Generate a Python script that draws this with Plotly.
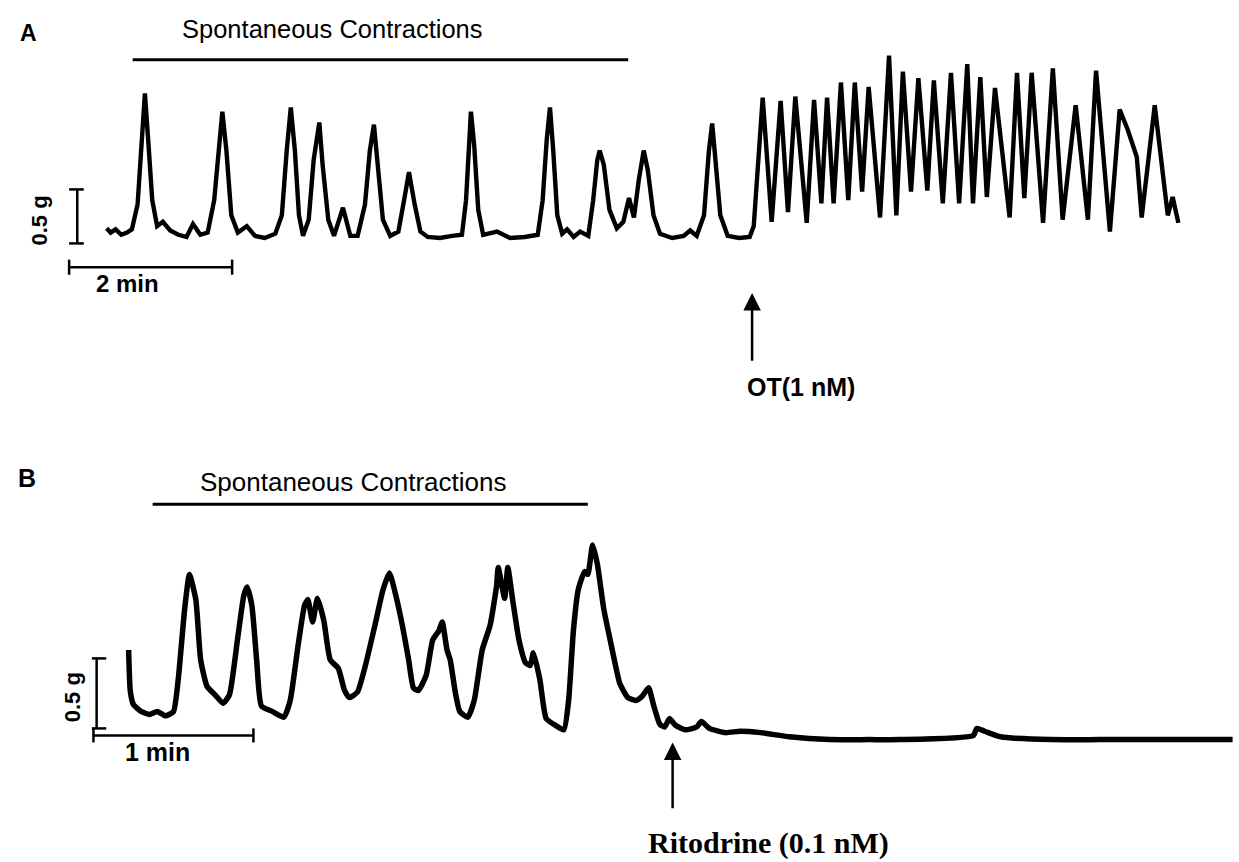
import plotly.graph_objects as go

# ---------------- Panel A : time (min), force (g) ----------------
a_time = [0.02, 0.07, 0.13, 0.20, 0.27, 0.33, 0.40, 0.45, 0.49, 0.53, 0.58, 0.64, 0.71, 0.80, 0.90,
          1.00, 1.08, 1.17, 1.26, 1.34, 1.40, 1.44, 1.49, 1.55, 1.63, 1.74, 1.84, 1.96, 2.09, 2.17,
          2.23, 2.28, 2.33, 2.38, 2.43, 2.50, 2.56, 2.63, 2.67, 2.74, 2.81, 2.92, 3.01, 3.10, 3.19,
          3.25, 3.30, 3.35, 3.41, 3.50, 3.60, 3.67, 3.73, 3.80, 3.87, 3.96, 4.11, 4.26, 4.38, 4.43,
          4.47, 4.49, 4.53, 4.58, 4.64, 4.81, 4.97, 5.15, 5.31, 5.37, 5.42, 5.46, 5.50, 5.55, 5.61,
          5.67, 5.75, 5.83, 5.93, 5.99, 6.04, 6.07, 6.12, 6.19, 6.28, 6.36, 6.43, 6.49, 6.55, 6.61,
          6.66, 6.73, 6.81, 6.96, 7.10, 7.18, 7.26, 7.35, 7.41, 7.45, 7.48, 7.55, 7.64, 7.78, 7.91,
          7.96, 8.07, 8.18, 8.29, 8.38, 8.47, 8.61, 8.70, 8.79, 8.86, 8.94, 9.03, 9.12, 9.20, 9.29,
          9.37, 9.51, 9.62, 9.71, 9.79, 9.89, 9.98, 10.09, 10.17, 10.28, 10.38, 10.48, 10.58, 10.65,
          10.74, 10.82, 10.92, 11.02, 11.10, 11.19, 11.28, 11.37, 11.51, 11.63, 11.75, 11.91, 12.06,
          12.16, 12.33, 12.45, 12.55, 12.66, 12.72, 12.88, 13.04, 13.10, 13.17]
a_force = [0.09, 0.05, 0.08, 0.03, 0.05, 0.08, 0.31, 0.81, 1.34, 0.91, 0.35, 0.11, 0.15, 0.07, 0.03,
           0.01, 0.13, 0.03, 0.05, 0.35, 0.91, 1.17, 0.81, 0.21, 0.05, 0.11, 0.02, 0.00, 0.04, 0.21,
           0.81, 1.21, 0.81, 0.21, 0.02, 0.17, 0.72, 1.07, 0.68, 0.17, 0.02, 0.28, 0.02, 0.02, 0.31,
           0.81, 1.05, 0.68, 0.17, 0.02, 0.06, 0.35, 0.61, 0.31, 0.06, 0.01, 0.00, 0.02, 0.03, 0.35,
           0.91, 1.17, 0.86, 0.26, 0.03, 0.06, 0.00, 0.01, 0.03, 0.35, 0.91, 1.21, 0.81, 0.21, 0.04,
           0.08, 0.01, 0.06, 0.02, 0.35, 0.72, 0.81, 0.68, 0.26, 0.09, 0.15, 0.37, 0.19, 0.54, 0.81,
           0.63, 0.21, 0.04, 0.00, 0.02, 0.07, 0.02, 0.21, 0.81, 1.06, 0.81, 0.21, 0.02, 0.00, 0.01,
           0.11, 1.30, 0.15, 1.27, 0.24, 1.31, 0.14, 1.28, 0.32, 1.30, 0.32, 1.44, 0.35, 1.44, 0.43,
           1.40, 0.19, 1.69, 0.21, 1.54, 0.43, 1.48, 0.44, 1.46, 0.32, 1.53, 0.32, 1.61, 0.32,
           1.49, 0.38, 1.39, 0.72, 0.19, 1.53, 0.37, 1.53, 0.14, 1.57, 0.17, 1.23, 0.17,
           1.55, 0.06, 1.19, 1.00, 0.75, 0.19, 1.23, 0.21, 0.38, 0.14]

# ---------------- Panel B : time (min), force (g) ----------------
b_time = [0.01, 0.02, 0.04, 0.09, 0.14, 0.19, 0.24, 0.29, 0.32, 0.36, 0.39, 0.43, 0.46, 0.50, 0.55,
          0.60, 0.64, 0.69, 0.73, 0.75, 0.78, 0.81, 0.84, 0.91, 0.98, 1.02, 1.07, 1.11, 1.13, 1.16,
          1.19, 1.23, 1.27, 1.32, 1.36, 1.39, 1.44, 1.49, 1.55, 1.60, 1.64, 1.68, 1.72, 1.76, 1.79,
          1.82, 1.87, 1.91, 1.95, 1.97, 2.00, 2.02, 2.05, 2.08, 2.13, 2.17, 2.22, 2.27, 2.31, 2.32,
          2.36, 2.38, 2.41, 2.45, 2.49, 2.52, 2.54, 2.58, 2.62, 2.68, 2.73, 2.76, 2.79, 2.82, 2.86,
          2.88, 2.91, 2.94, 2.98, 3.02, 3.04, 3.08, 3.13, 3.18, 3.22, 3.26, 3.29, 3.33, 3.36, 3.39,
          3.43, 3.49, 3.56, 3.59, 3.64, 3.74, 3.83, 3.96, 4.14, 4.39, 4.64, 4.83, 5.29, 5.31, 5.36,
          5.46, 5.77, 6.08, 6.39, 6.71, 6.91]
b_force = [0.45, 0.16, 0.06, 0.01, -0.01, 0.01, -0.02, 0.01, 0.24, 0.74, 0.99, 0.81, 0.38, 0.19, 0.13,
           0.07, 0.13, 0.52, 0.84, 0.90, 0.77, 0.38, 0.05, 0.01, -0.03, 0.09, 0.49, 0.77, 0.81, 0.65,
           0.82, 0.66, 0.38, 0.32, 0.16, 0.11, 0.15, 0.34, 0.63, 0.88, 1.00, 0.84, 0.63, 0.38, 0.18,
           0.16, 0.27, 0.52, 0.59, 0.65, 0.45, 0.38, 0.16, 0.01, -0.03, 0.09, 0.45, 0.63, 0.91, 1.04,
           0.82, 1.04, 0.81, 0.52, 0.36, 0.34, 0.43, 0.24, -0.04, -0.09, -0.12, 0.09, 0.59, 0.88, 1.01,
           0.99, 1.20, 1.06, 0.74, 0.52, 0.41, 0.21, 0.11, 0.09, 0.12, 0.18, 0.06, -0.08, -0.10, -0.04,
           -0.09, -0.12, -0.10, -0.06, -0.11, -0.14, -0.13, -0.14, -0.17, -0.19, -0.19, -0.19, -0.16, -0.11, -0.13,
           -0.17, -0.19, -0.19, -0.19, -0.19, -0.19]

fig = go.Figure()
fig.add_trace(go.Scatter(x=a_time, y=a_force, mode="lines", xaxis="x", yaxis="y",
                         line=dict(color="black", width=4.4), hoverinfo="skip", showlegend=False))
fig.add_trace(go.Scatter(x=b_time, y=b_force, mode="lines", xaxis="x2", yaxis="y2",
                         line=dict(color="black", width=5.5, shape="spline", smoothing=0.5),
                         hoverinfo="skip", showlegend=False))

ax_common = dict(visible=False, showgrid=False, zeroline=False, fixedrange=True)
fig.update_layout(
    width=1239, height=862, margin=dict(l=0, r=0, t=0, b=0),
    paper_bgcolor="white", plot_bgcolor="white",
    xaxis=dict(domain=[0, 1], range=[-1.288, 13.914], anchor="y", **ax_common),
    yaxis=dict(domain=[0.5, 1], range=[-1.787, 2.204], anchor="x", **ax_common),
    xaxis2=dict(domain=[0, 1], range=[-0.794, 6.95], anchor="y2", **ax_common),
    yaxis2=dict(domain=[0, 0.5], range=[-1.064, 2.014], anchor="x2", **ax_common),
)

shapes = []
def seg(xr, yr, x0, y0, x1, y1, w=2.5):
    shapes.append(dict(type="line", xref=xr, yref=yr, x0=x0, y0=y0, x1=x1, y1=y1,
                       line=dict(color="black", width=w)))

# Panel A scale bars (0.5 g vertical, 2 min horizontal)
seg("x", "y", -0.34, -0.05, -0.34, 0.45)
seg("x", "y", -0.44, -0.05, -0.26, -0.05)
seg("x", "y", -0.44, 0.45, -0.26, 0.45)
seg("x", "y", -0.44, -0.27, 1.56, -0.27)
seg("x", "y", -0.44, -0.34, -0.44, -0.20)
seg("x", "y", 1.56, -0.34, 1.56, -0.20)
# Panel A spontaneous bar
seg("x", "y", 0.34, 1.65, 6.42, 1.65, 3)

# Panel B scale bars (0.5 g vertical, 1 min horizontal)
seg("x2", "y2", -0.19, -0.11, -0.19, 0.39)
seg("x2", "y2", -0.22, -0.11, -0.13, -0.11)
seg("x2", "y2", -0.22, 0.39, -0.13, 0.39)
seg("x2", "y2", -0.21, -0.16, 0.79, -0.16)
seg("x2", "y2", -0.21, -0.21, -0.21, -0.11)
seg("x2", "y2", 0.79, -0.21, 0.79, -0.11)
# Panel B spontaneous bar
seg("x2", "y2", 0.16, 1.49, 2.88, 1.49, 3)

fig.update_layout(shapes=shapes)

sans = "Liberation Sans, Arial, sans-serif"
ann = []
ann.append(dict(text="<b>A</b>", xref="paper", yref="paper", x=0.0226, y=0.962, showarrow=False,
                xanchor="center", yanchor="middle",
                font=dict(family=sans, size=23, color="black")))
ann.append(dict(text="<b>B</b>", xref="paper", yref="paper", x=0.0218, y=0.4455, showarrow=False,
                xanchor="center", yanchor="middle",
                font=dict(family=sans, size=25, color="black")))
ann.append(dict(text="Spontaneous Contractions", xref="x", yref="y", x=2.79, y=1.94, showarrow=False,
                font=dict(family=sans, size=25.5, color="black")))
ann.append(dict(text="Spontaneous Contractions", xref="x2", yref="y2", x=1.41, y=1.65, showarrow=False,
                font=dict(family=sans, size=26, color="black")))
ann.append(dict(text="<b>0.5 g</b>", xref="x", yref="y", x=-0.80, y=0.16, showarrow=False, textangle=-90,
                font=dict(family=sans, size=22, color="black")))
ann.append(dict(text="<b>2 min</b>", xref="x", yref="y", x=0.28, y=-0.42, showarrow=False,
                font=dict(family=sans, size=24, color="black")))
ann.append(dict(text="<b>0.5 g</b>", xref="x2", yref="y2", x=-0.34, y=0.11, showarrow=False, textangle=-90,
                font=dict(family=sans, size=22, color="black")))
ann.append(dict(text="<b>1 min</b>", xref="x2", yref="y2", x=0.19, y=-0.28, showarrow=False,
                font=dict(family=sans, size=25, color="black")))
# OT arrow + label
ann.append(dict(text="", xref="x", yref="y", x=7.94, y=-0.51, ax=7.94, ay=-1.15, axref="x", ayref="y",
                showarrow=True, arrowhead=2, arrowsize=1.4, arrowwidth=2.5, arrowcolor="black"))
ann.append(dict(text="<b>OT(1 nM)</b>", xref="x", yref="y", x=7.85, y=-1.38, showarrow=False, xanchor="left",
                font=dict(family=sans, size=25, color="black")))
# Ritodrine arrow + label
ann.append(dict(text="", xref="x2", yref="y2", x=3.41, y=-0.21, ax=3.41, ay=-0.69, axref="x2", ayref="y2",
                showarrow=True, arrowhead=2, arrowsize=1.4, arrowwidth=2.5, arrowcolor="black"))
ann.append(dict(text="<b>Ritodrine (0.1 nM)</b>", xref="x2", yref="y2", x=4.01, y=-0.93, showarrow=False,
                font=dict(family="Liberation Serif, Times New Roman, serif", size=30, color="black")))
fig.update_layout(annotations=ann)

fig.write_html("out.html", config=dict(displayModeBar=False))
